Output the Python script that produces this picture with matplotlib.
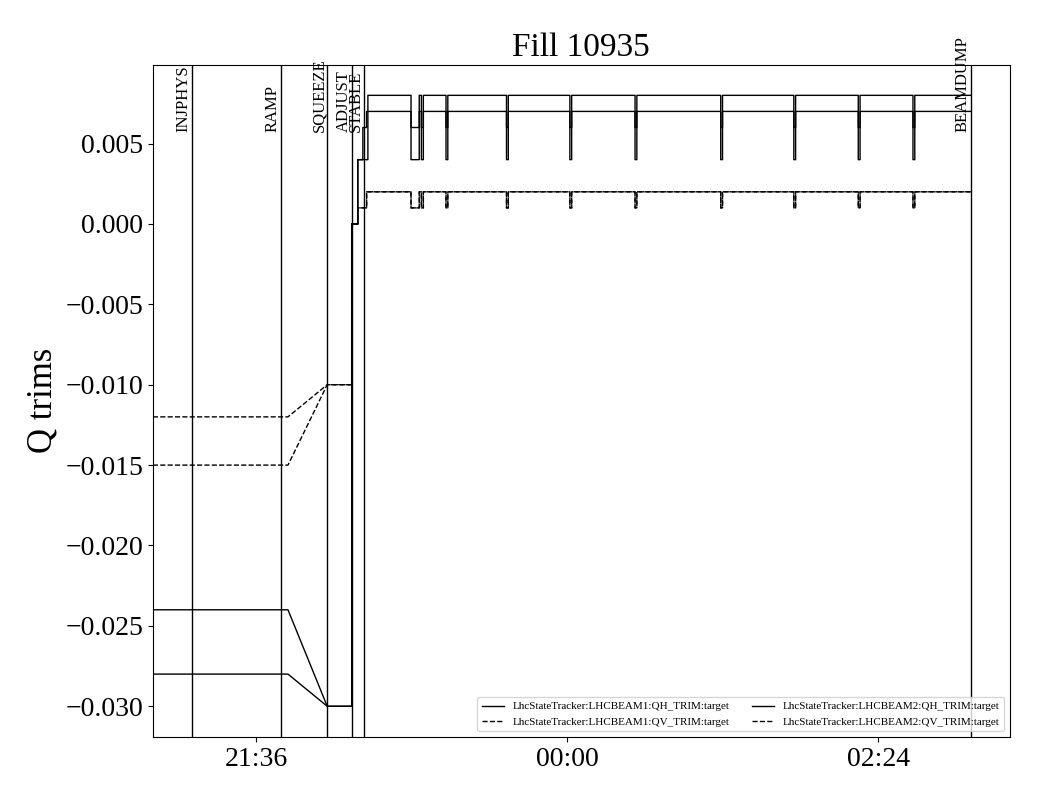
import datetime as dt
import matplotlib
matplotlib.use('Agg')
from matplotlib import pyplot as plt
import matplotlib.dates as mdates
from matplotlib.ticker import MultipleLocator

plt.rcParams['font.family'] = ['Liberation Serif', 'DejaVu Serif']

# beam mode changes (hh:mm:ss, night of the fill)
phase_names = ['INJPHYS', 'RAMP', 'SQUEEZE', 'ADJUST', 'STABLE', 'BEAMDUMP']
phase_times = ['21:06:20', '21:47:30', '22:09:00', '22:20:25', '22:26:00', '03:07:00']

# trim settings: knots (time, value) before stable beams
knot_times = ['20:48:18', '21:50:50', '22:09:00', '22:20:20', '22:20:20',
              '22:23:10', '22:23:10', '22:25:30', '22:25:30', '22:27:15',
              '22:27:15', '22:27:50', '22:27:50']
b1_qh_knots = [-0.024, -0.024, -0.030, -0.030, 0.000, 0.000, 0.004, 0.004,
               0.004, 0.004, 0.004, 0.004, 0.008]
b2_qh_knots = [-0.028, -0.028, -0.030, -0.030, 0.000, 0.000, 0.004, 0.004,
               0.006, 0.006, 0.007, 0.007, 0.007]
b1_qv_knots = [-0.012, -0.012, -0.010, -0.010, 0.000, 0.000, 0.001, 0.001,
               0.001, 0.001, 0.002, 0.002, 0.002]
b2_qv_knots = [-0.015, -0.015, -0.010, -0.010, 0.000, 0.000, 0.001, 0.001,
               0.001, 0.001, 0.002, 0.002, 0.002]

# short trim dips during stable beams (start, end)
dip_starts = ['22:47:48', '22:52:36', '23:04:00', '23:32:00', '00:01:20',
              '00:31:30', '01:11:10', '01:45:00', '02:14:50', '02:40:10']
dip_ends = ['22:51:36', '22:53:30', '23:04:50', '23:32:50', '00:02:10',
            '00:32:20', '01:12:00', '01:45:50', '02:15:40', '02:41:00']
b1_qh_dip = 0.004
b2_qh_dip = 0.006
b1_qv_dip = 0.001
b2_qv_dip = 0.001

labels = ['LhcStateTracker:LHCBEAM1:QH_TRIM:target',
          'LhcStateTracker:LHCBEAM1:QV_TRIM:target',
          'LhcStateTracker:LHCBEAM2:QH_TRIM:target',
          'LhcStateTracker:LHCBEAM2:QV_TRIM:target']

xlim_times = ['20:48:18', '03:25:00']


def to_num(s):
    h, m, sec = [int(v) for v in s.split(':')]
    day = dt.datetime(2025, 8, 2) if h >= 12 else dt.datetime(2025, 8, 3)
    return mdates.date2num(day.replace(hour=h, minute=m, second=sec))


def build(knots, dip_value):
    t = [to_num(s) for s in knot_times]
    v = list(knots)
    top = v[-1]
    for s, e in zip(dip_starts, dip_ends):
        ts, te = to_num(s), to_num(e)
        t += [ts, ts, te, te]
        v += [top, dip_value, dip_value, top]
    t.append(to_num(phase_times[-1]))
    v.append(top)
    return t, v


fig, ax = plt.subplots(figsize=(10.4, 8), dpi=100)
fig.subplots_adjust(left=0.147, right=0.971, bottom=0.079, top=0.919)

series = [(b1_qh_knots, b1_qh_dip, '-'), (b1_qv_knots, b1_qv_dip, '--'),
          (b2_qh_knots, b2_qh_dip, '-'), (b2_qv_knots, b2_qv_dip, '--')]
for (knots, dip, ls), lab in zip(series, labels):
    t, v = build(knots, dip)
    ax.plot(t, v, color='black', linestyle=ls, linewidth=1, label=lab)

for name, s in zip(phase_names, phase_times):
    x = to_num(s)
    ax.axvline(x, color='black', linewidth=1)
    ax.text(x, 0.9, name, rotation=90, ha='right', va='bottom',
            fontsize=12, transform=ax.get_xaxis_transform())

ax.set_xlim(to_num(xlim_times[0]), to_num(xlim_times[1]))
ax.xaxis.set_major_locator(MultipleLocator(0.1))
ax.xaxis.set_major_formatter(mdates.DateFormatter('%H:%M'))
ax.tick_params(labelsize=20)
ax.set_ylabel('Q trims', fontsize=25)
ax.set_title('Fill 10935', fontsize=24)
ax.legend(loc='lower right', ncol=2, fontsize=8)

plt.savefig('out.png')
